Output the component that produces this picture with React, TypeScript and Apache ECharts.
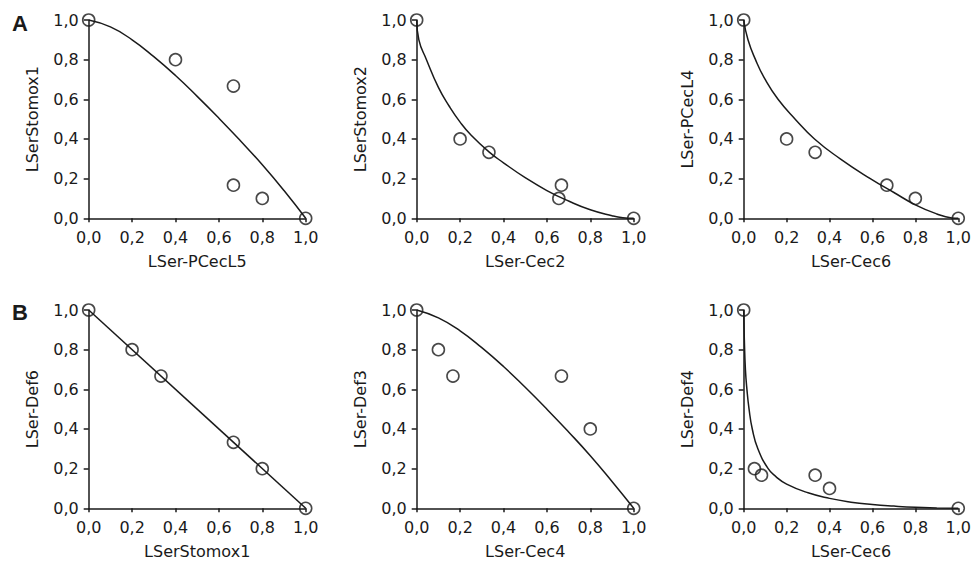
import React, { useEffect, useRef } from "react";
import * as echarts from "echarts";

// ---- data ----
const tickValues = [0, 0.2, 0.4, 0.6, 0.8, 1.0];

const xTitles = ["LSer-PCecL5", "LSer-Cec2", "LSer-Cec6", "LSerStomox1", "LSer-Cec4", "LSer-Cec6"];
const yTitles = ["LSerStomox1", "LSerStomox2", "LSer-PCecL4", "LSer-Def6", "LSer-Def3", "LSer-Def4"];
const panelLetters = ["A", "B"];

const a1Points = [[0, 1], [0.4, 0.8], [0.667, 0.667], [0.667, 0.167], [0.8, 0.1], [1, 0]];
const a1Curve = [[0, 1], [0.1, 0.965], [0.2, 0.9], [0.3, 0.815], [0.4, 0.72], [0.5, 0.615], [0.6, 0.505], [0.7, 0.39], [0.8, 0.27], [0.9, 0.14], [1, 0]];

const a2Points = [[0, 1], [0.2, 0.4], [0.333, 0.333], [0.667, 0.167], [0.655, 0.1], [1, 0]];
const a2Curve = [[0, 1], [0.01, 0.9], [0.045, 0.8], [0.1, 0.66], [0.15, 0.565], [0.2, 0.485], [0.25, 0.42], [0.333, 0.335], [0.4, 0.28], [0.5, 0.205], [0.6, 0.14], [0.7, 0.087], [0.8, 0.043], [0.9, 0.013], [0.95, 0.003], [1, 0]];

const a3Points = [[0, 1], [0.2, 0.4], [0.333, 0.333], [0.667, 0.167], [0.8, 0.1], [1, 0]];
const a3Curve = [[0, 1], [0.02, 0.9], [0.055, 0.8], [0.1, 0.7], [0.16, 0.6], [0.24, 0.5], [0.33, 0.4], [0.45, 0.3], [0.59, 0.2], [0.7, 0.13], [0.8, 0.068], [0.9, 0.022], [0.97, 0.002], [1, 0]];

const b1Points = [[0, 1], [0.2, 0.8], [0.333, 0.667], [0.667, 0.333], [0.8, 0.2], [1, 0]];
const b1Curve = [[0, 1], [1, 0]];

const b2Points = [[0, 1], [0.1, 0.8], [0.167, 0.667], [0.667, 0.667], [0.8, 0.4], [1, 0]];
const b2Curve = [[0, 1], [0.1, 0.96], [0.2, 0.895], [0.3, 0.81], [0.4, 0.715], [0.5, 0.61], [0.6, 0.5], [0.7, 0.385], [0.8, 0.265], [0.9, 0.135], [1, 0]];

const b3Points = [[0, 1], [0.05, 0.2], [0.083, 0.167], [0.333, 0.167], [0.4, 0.1], [1, 0]];
const b3Curve = [[0, 1], [0.003, 0.85], [0.008, 0.7], [0.015, 0.6], [0.025, 0.5], [0.04, 0.4], [0.066, 0.3], [0.114, 0.2], [0.15, 0.16], [0.2, 0.122], [0.3, 0.078], [0.4, 0.05], [0.5, 0.031], [0.6, 0.019], [0.7, 0.011], [0.8, 0.005], [0.9, 0.002], [1, 0]];

const allPoints = [a1Points, a2Points, a3Points, b1Points, b2Points, b3Points];
const allCurves = [a1Curve, a2Curve, a3Curve, b1Curve, b2Curve, b3Curve];

export default function App() {
  const ref = useRef<HTMLDivElement>(null);

  useEffect(() => {
    if (!ref.current) return;
    const chart = echarts.init(ref.current, null, { renderer: "svg" });

    const font = "DejaVu Sans";
    const ink = "#1a1a1a";
    const fmt = (v: number) => v.toFixed(1).replace(".", ",");

    const lefts = [88.7, 416.7, 743.7];
    const tops = [20, 310];
    const gw = 217;
    const gh = 198.3;

    const grids: any[] = [];
    const xAxes: any[] = [];
    const yAxes: any[] = [];
    const series: any[] = [];

    for (let i = 0; i < 6; i++) {
      const r = Math.floor(i / 3);
      const c = i % 3;
      grids.push({ left: lefts[c], top: tops[r], width: gw, height: gh });
      const common = {
        type: "value",
        gridIndex: i,
        min: tickValues[0],
        max: tickValues[tickValues.length - 1],
        interval: 0.2,
        nameLocation: "middle",
        nameTextStyle: { fontFamily: font, fontSize: 16, color: ink },
        axisLine: { show: true, onZero: false, lineStyle: { color: ink, width: 1.5 } },
        splitLine: { show: false },
        axisLabel: { fontFamily: font, fontSize: 16, color: ink, formatter: fmt },
      };
      xAxes.push({
        ...common,
        name: xTitles[i],
        nameGap: 35,
        axisTick: { show: true, inside: false, length: 4, lineStyle: { color: ink, width: 1.5 } },
        axisLabel: { ...common.axisLabel, margin: 11 },
      });
      yAxes.push({
        ...common,
        name: yTitles[i],
        nameGap: 48,
        axisTick: { show: true, inside: false, length: 5, lineStyle: { color: ink, width: 1.5 } },
        axisLabel: { ...common.axisLabel, margin: 10 },
      });
      series.push({
        type: "line",
        xAxisIndex: i,
        yAxisIndex: i,
        data: allCurves[i],
        smooth: 0.5,
        showSymbol: false,
        clip: false,
        lineStyle: { color: ink, width: 1.5 },
        z: 2,
      });
      series.push({
        type: "scatter",
        xAxisIndex: i,
        yAxisIndex: i,
        data: allPoints[i],
        symbol: "circle",
        symbolSize: 12,
        clip: false,
        itemStyle: { color: "rgba(0,0,0,0)", borderColor: ink, borderWidth: 1.6 },
        z: 3,
      });
    }

    chart.setOption({
      animation: false,
      backgroundColor: "#ffffff",
      grid: grids,
      xAxis: xAxes,
      yAxis: yAxes,
      series,
      graphic: panelLetters.map((t, k) => ({
        type: "text",
        left: 12,
        top: k === 0 ? 12 : 301,
        style: { text: t, font: "bold 22px 'Liberation Sans', Arial, sans-serif", fill: ink },
      })),
    });

    return () => chart.dispose();
  }, []);

  return (
    <div
      ref={ref}
      style={{ position: "absolute", left: 0, top: 0, width: 974, height: 564, background: "#fff" }}
    />
  );
}
